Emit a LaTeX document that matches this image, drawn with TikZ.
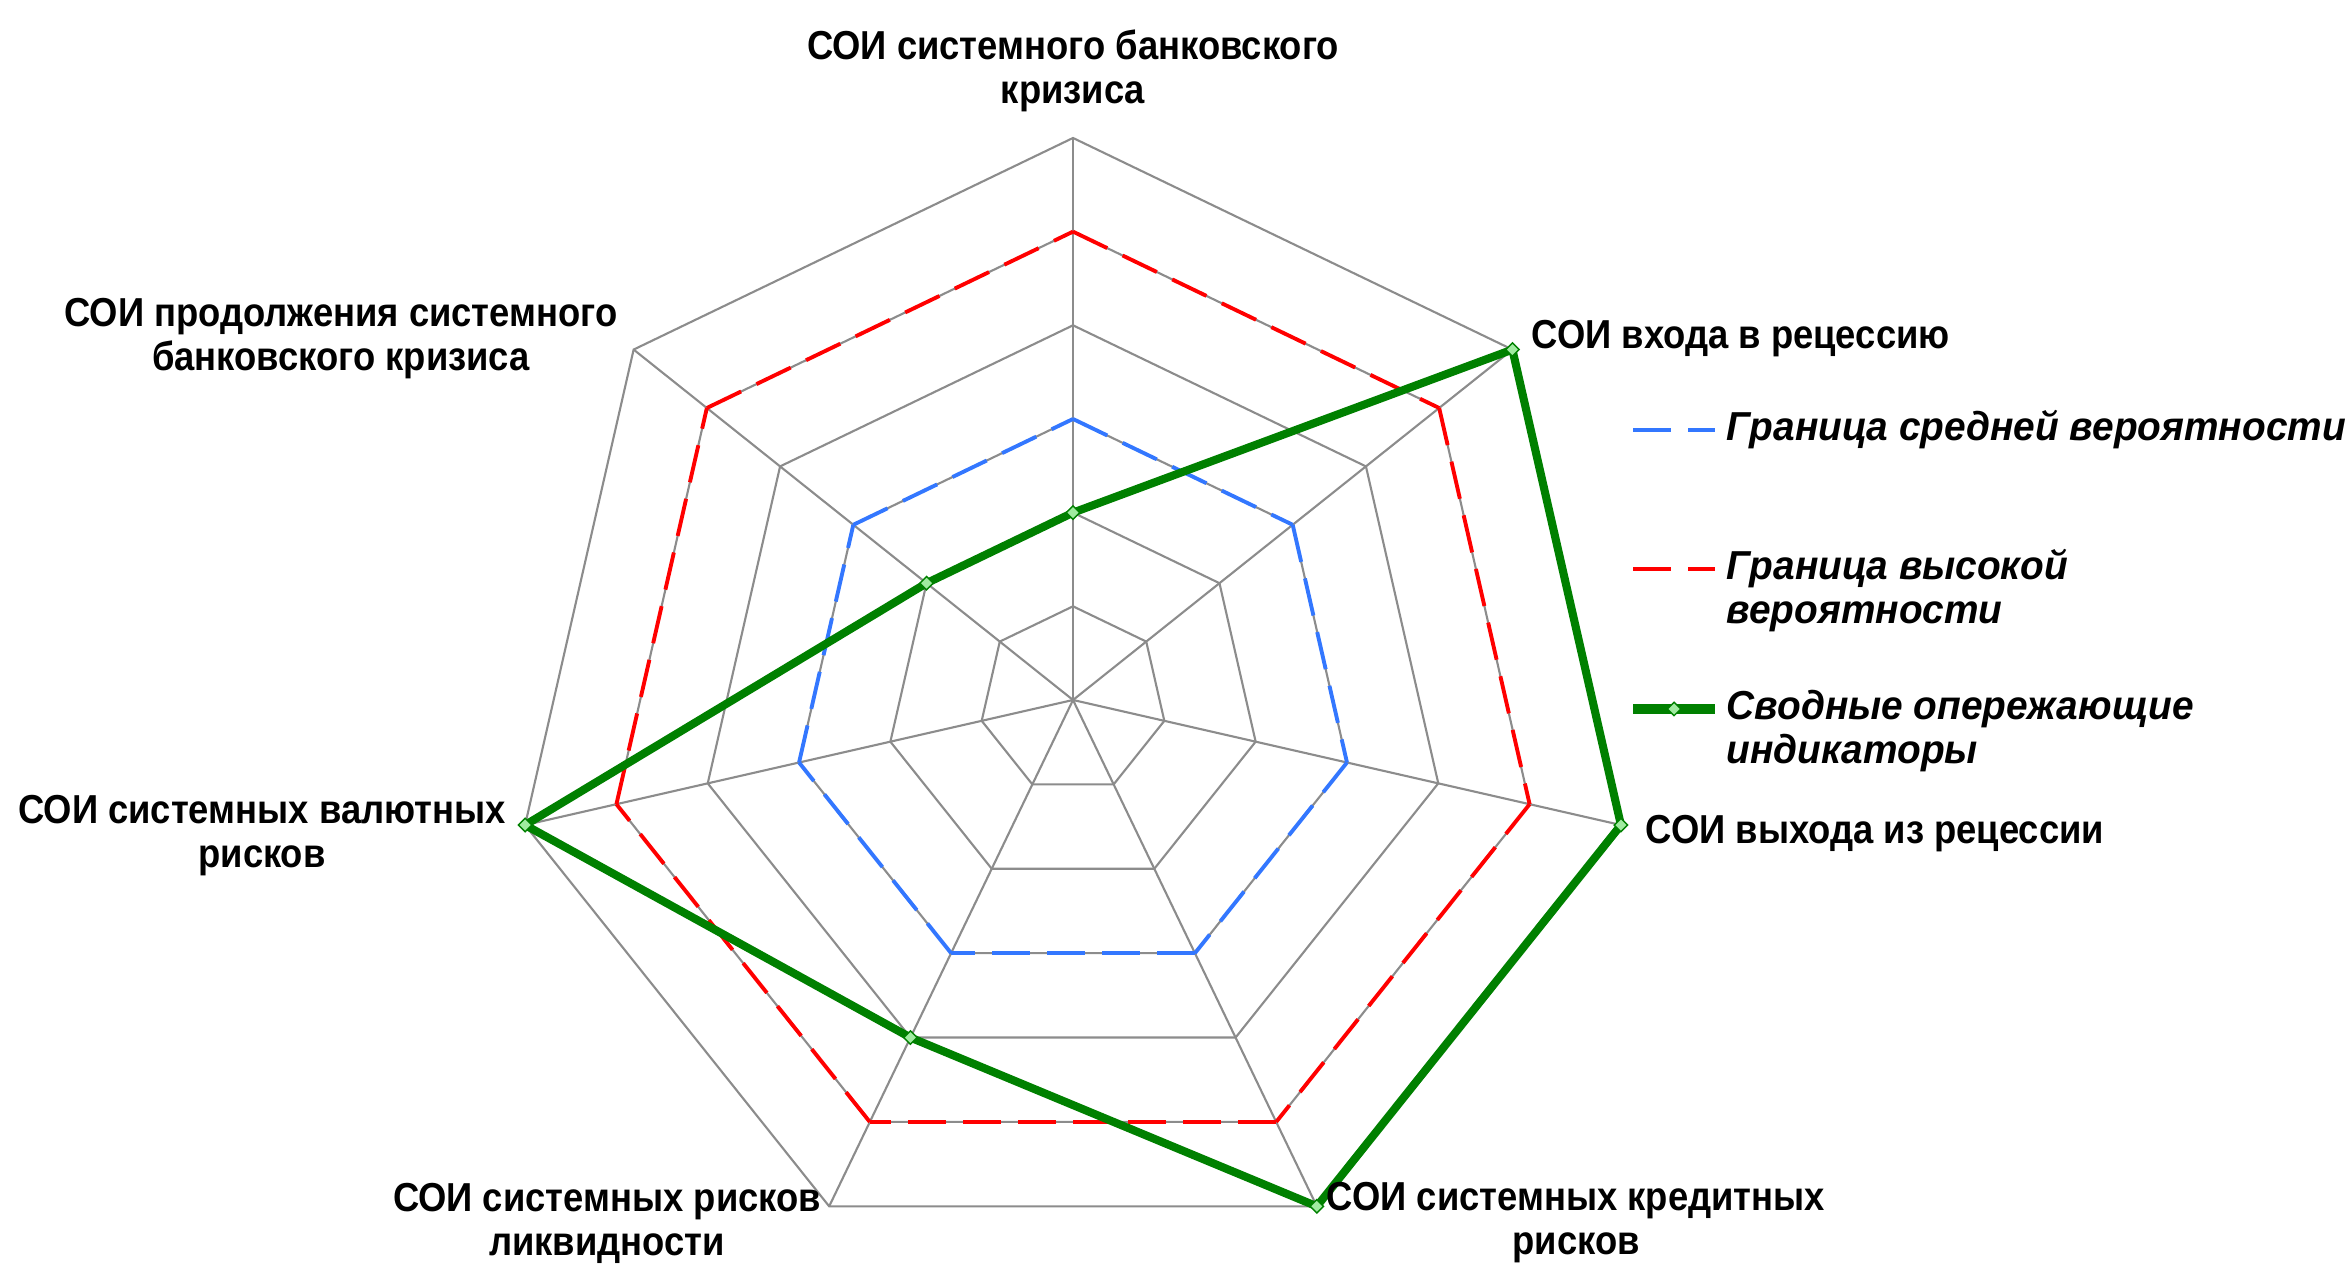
\documentclass[tikz,border=0pt]{standalone}
\usepackage{fontspec}
\setmainfont{Liberation Sans}[FakeStretch=0.9]
\newfontfamily\legendfont{Liberation Sans}[FakeStretch=0.96]
\usetikzlibrary{shapes.geometric}
\usetikzlibrary{positioning}
\definecolor{gridgray}{RGB}{140,140,140}
\definecolor{medblue}{RGB}{51,119,255}
\definecolor{highred}{RGB}{255,0,0}
\definecolor{indgreen}{RGB}{0,128,0}
\definecolor{markgreen}{RGB}{160,235,160}
\tikzstyle{grid} = [draw=gridgray, line width=0.6pt]
\tikzstyle{axislabel} = [font=\bfseries\fontsize{11.5}{12.5}\selectfont, align=center, inner sep=0pt]
\tikzstyle{legendtext} = [font=\legendfont\bfseries\itshape\fontsize{11.5}{12.5}\selectfont, align=left, inner sep=0pt]
\tikzstyle{medline} = [draw=medblue, line width=1.1pt, dash pattern=on 0.38cm off 0.17cm]
\tikzstyle{highline} = [draw=highred, line width=1.1pt, dash pattern=on 0.38cm off 0.17cm]
\tikzstyle{indline} = [draw=indgreen, line width=2.3pt, line join=round]
\tikzstyle{marker} = [diamond, fill=markgreen, draw=indgreen, line width=0.4pt, inner sep=0pt, minimum size=0.14cm]

\begin{document}
\begin{tikzpicture}[x=0.01cm, y=0.01cm]
\useasboundingbox (0,0) rectangle (2349,1267);
\coordinate (c) at (1073,567);
% vertices of the seven axes, six levels each
\foreach \k in {0,...,6}
  \foreach \l in {1,...,6}
    \path (c) ++({90-\k*360/7}:{\l*93.67}) coordinate (v\k-\l);

% grid
\foreach \l in {1,...,6}
  \draw[grid] (v0-\l) -- (v1-\l) -- (v2-\l) -- (v3-\l) -- (v4-\l) -- (v5-\l) -- (v6-\l) -- cycle;
\foreach \k in {0,...,6}
  \draw[grid] (c) -- (v\k-6);

% bounds
\foreach \k/\n in {0/1,1/2,2/3,3/4,4/5,5/6,6/0}{
  \draw[medline] (v\k-3) -- (v\n-3);
  \draw[highline] (v\k-5) -- (v\n-5);
}

% indicators
\draw[indline] (v0-2) -- (v1-6) -- (v2-6) -- (v3-6) -- (v4-4) -- (v5-6) -- (v6-2) -- cycle;
\foreach \p [count=\i] in {v0-2,v1-6,v2-6,v3-6,v4-4,v5-6,v6-2}
  \node[marker] (m\i) at (\p) {};

% axis labels
\node[axislabel] (lbl0) at (1073,1196) {СОИ системного банковского\\кризиса};
\node[axislabel, anchor=west] (lbl1) at (1531,928) {СОИ входа в рецессию};
\node[axislabel, anchor=west] (lbl2) at (1645,433) {СОИ выхода из рецессии};
\node[axislabel] (lbl3) at (1576,44) {СОИ системных кредитных\\рисков};
\node[axislabel] (lbl4) at (607,44) {СОИ системных рисков\\ликвидности};
\node[axislabel] (lbl5) at (262,431) {СОИ системных валютных\\рисков};
\node[axislabel] (lbl6) at (341,928) {СОИ продолжения системного\\банковского кризиса};

% legend
\coordinate (medA) at (1633,837);
\coordinate[right=0.82cm of medA] (medB);
\draw[medline] (medA) -- (medB);
\node[legendtext, right=0.11cm of medB] (medtxt) {Граница средней вероятности};

\coordinate (highA) at (1633,698);
\coordinate[right=0.82cm of highA] (highB);
\draw[highline] (highA) -- (highB);
\node[legendtext, right=0.11cm of highB, yshift=-0.22cm] (hightxt) {Граница высокой\\вероятности};

\coordinate (indA) at (1633,558);
\coordinate[right=0.82cm of indA] (indB);
\draw[indline, line width=3pt] (indA) -- (indB);
\node[marker, right=0.41cm of indA, anchor=center] (indm) {};
\node[legendtext, right=0.11cm of indB, yshift=-0.22cm] (indtxt) {Сводные опережающие\\индикаторы};
\end{tikzpicture}
\end{document}
